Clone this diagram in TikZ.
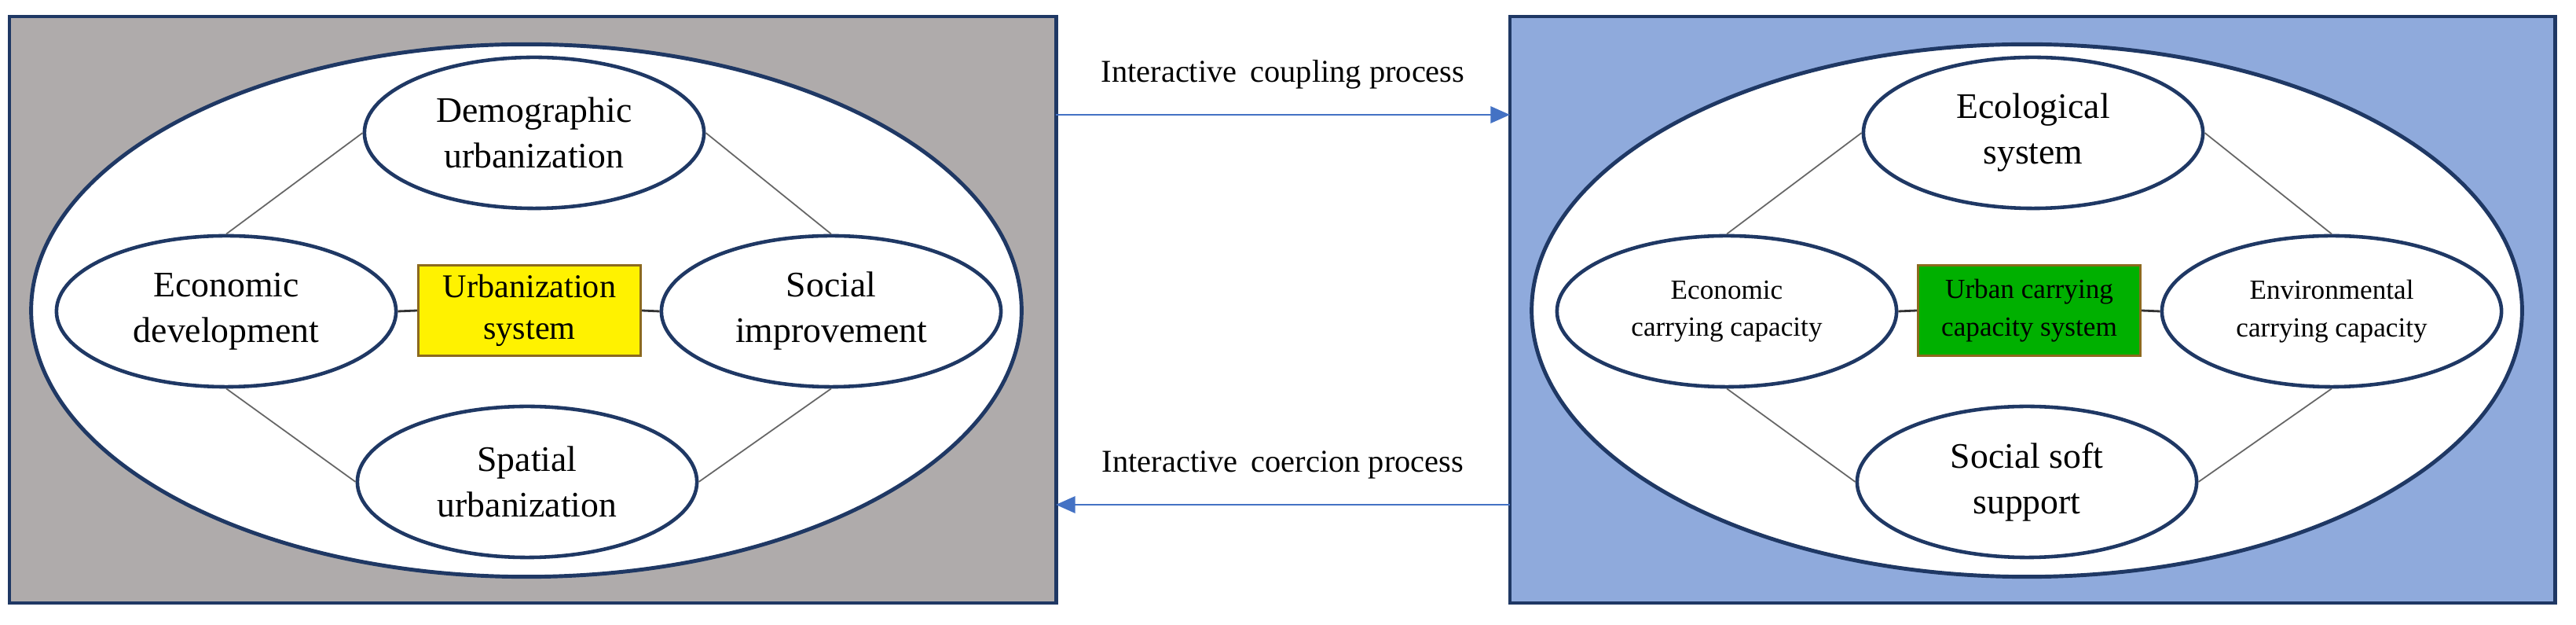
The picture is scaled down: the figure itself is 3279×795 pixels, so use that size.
\documentclass[tikz,border=0pt]{standalone}
\usepackage{fontspec}
\setmainfont{Liberation Serif}
\usetikzlibrary{shapes.geometric,arrows.meta}
\definecolor{navy}{HTML}{1F3864}
\definecolor{panelgray}{HTML}{AFABAB}
\definecolor{panelblue}{HTML}{8FAADC}
\definecolor{arrowblue}{HTML}{4472C4}
\definecolor{boxedge}{HTML}{8C6A1E}
\begin{document}
\begin{tikzpicture}[x=0.01cm,y=-0.01cm,
  panel/.style={draw=navy,line width=1.2pt},
  outer/.style={ellipse,draw=navy,line width=1.4pt,fill=white,minimum width=12.6cm,minimum height=6.77cm,inner sep=0pt},
  sub/.style={ellipse,draw=navy,line width=1.3pt,fill=white,minimum width=4.32cm,minimum height=1.92cm,inner sep=0pt,align=center,font=\fontsize{13}{16.5}\selectfont},
  subs/.style={sub,font=\fontsize{10}{13.5}\selectfont},
  core/.style={draw=boxedge,line width=0.8pt,minimum width=2.83cm,minimum height=1.15cm,inner sep=0pt,align=center},
  link/.style={draw=gray!80!black,line width=0.5pt},
  clink/.style={draw=black!80,line width=0.8pt},
  flow/.style={draw=arrowblue,line width=0.8pt,-{Triangle[length=7pt,width=6pt]}},
  lbl/.style={font=\fontsize{11.5}{14}\selectfont,inner sep=0pt}]
\useasboundingbox (0,0) rectangle (3279,795);
% left panel
\node[panel,fill=panelgray,minimum width=13.32cm,minimum height=7.46cm,inner sep=0pt] (lp) at (678,394) {};
\node[outer] (lo) at (670,395) {};
\node[sub] (ld) at (680,169) {Demographic\\urbanization};
\node[sub] (le) at (288,396) {Economic\\development};
\node[sub] (ls) at (1058,396) {Social\\improvement};
\node[sub] (lu) at (671,613) {Spatial\\urbanization};
\node[core,fill=yellow,font=\fontsize{12}{15}\selectfont] (lc) at (674,395) {Urbanization\\system};
\draw[link] (ld.west) -- (le.north);
\draw[link] (ld.east) -- (ls.north);
\draw[link] (le.south) -- (lu.west);
\draw[link] (ls.south) -- (lu.east);
\draw[clink] (le.east) -- (lc.west);
\draw[clink] (lc.east) -- (ls.west);
% right panel
\node[panel,fill=panelblue,minimum width=13.30cm,minimum height=7.46cm,inner sep=0pt] (rp) at (2587,394) {};
\node[outer] (ro) at (2580,395) {};
\node[sub] (rd) at (2588,169) {Ecological\\system};
\node[subs] (re) at (2198,396) {Economic\\carrying capacity};
\node[subs] (rs) at (2968,396) {Environmental\\carrying capacity};
\node[sub] (ru) at (2580,613) {Social soft\\support};
\node[core,fill=green!69!black,font=\fontsize{10}{13.5}\selectfont] (rc) at (2583,395) {Urban carrying\\capacity system};
\draw[link] (rd.west) -- (re.north);
\draw[link] (rd.east) -- (rs.north);
\draw[link] (re.south) -- (ru.west);
\draw[link] (rs.south) -- (ru.east);
\draw[clink] (re.east) -- (rc.west);
\draw[clink] (rc.east) -- (rs.west);
% flows
\coordinate (a1) at (1344,146); \coordinate (b1) at (1922,146);
\coordinate (a2) at (1922,642); \coordinate (b2) at (1344,642);
\draw[flow] (a1) -- node[lbl,above=9pt] (t1) {Interactive\, coupling process} (b1);
\draw[flow] (a2) -- node[lbl,above=9pt] (t2) {Interactive\, coercion process} (b2);
\end{tikzpicture}
\end{document}
